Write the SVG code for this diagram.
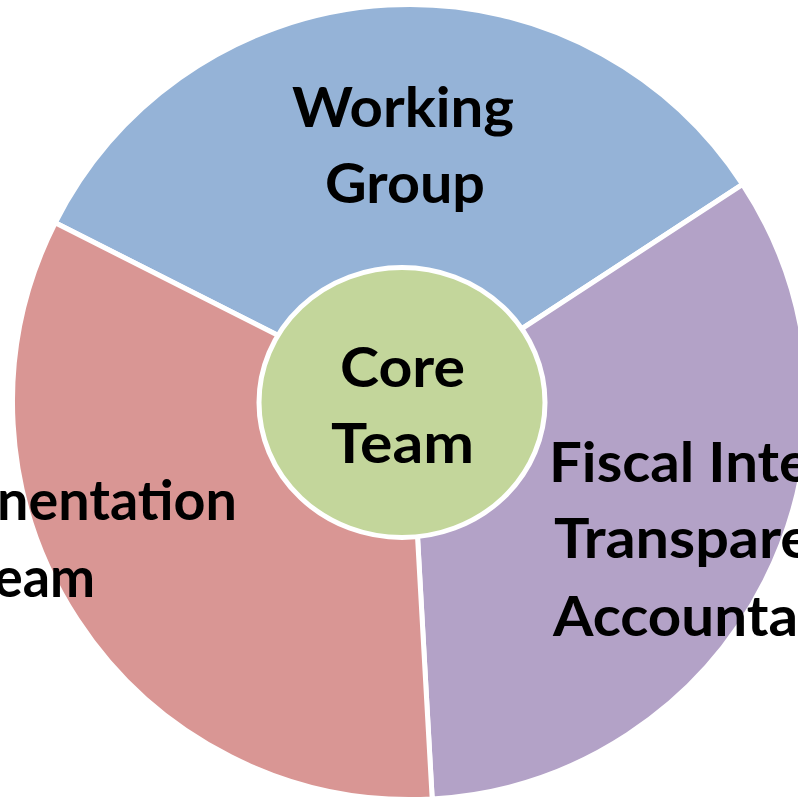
<svg xmlns="http://www.w3.org/2000/svg" width="798" height="799" viewBox="0 0 798 799">
<style>
.seg{stroke:#FFFFFF;stroke-width:5;stroke-linejoin:round}
.lbl{font-family:Lato,"Open Sans","Liberation Sans",sans-serif;font-weight:bold;font-size:56px;fill:#000000}
</style>
<rect x="0" y="0" width="798" height="799" fill="#FFFFFF"/>
<g id="connectors"/>
<g id="working-group">
<path class="seg" fill="#95B3D7" d="M410,402 L55.2,222.8 A397.5,397.5 0 0 1 742.6,184.3 Z"/>
<text class="lbl" x="292" y="127" textLength="222" lengthAdjust="spacingAndGlyphs">Working</text>
<text class="lbl" x="325" y="203" textLength="160" lengthAdjust="spacingAndGlyphs">Group</text>
</g>
<g id="fiscal-integrity">
<path class="seg" fill="#B3A2C7" d="M410,402 L742.6,184.3 A397.5,397.5 0 0 1 432.2,798.9 Z"/>
<text class="lbl" x="549" y="482" textLength="261" lengthAdjust="spacingAndGlyphs">Fiscal Inte</text>
<text class="lbl" x="554" y="558" textLength="258" lengthAdjust="spacingAndGlyphs">Transpare</text>
<text class="lbl" x="553" y="636" textLength="245" lengthAdjust="spacingAndGlyphs">Accounta</text>
</g>
<g id="implementation-team">
<path class="seg" fill="#D99694" d="M410,402 L432.2,798.9 A397.5,397.5 0 0 1 55.2,222.8 Z"/>
<text class="lbl" x="-3" y="520" textLength="240" lengthAdjust="spacingAndGlyphs">nentation</text>
<text class="lbl" x="-6" y="597" textLength="101" lengthAdjust="spacingAndGlyphs">eam</text>
</g>
<g id="core-team">
<ellipse cx="402" cy="402.5" rx="143" ry="135" fill="#C3D69B" stroke="#FFFFFF" stroke-width="5"/>
<text class="lbl" x="340" y="387" textLength="125" lengthAdjust="spacingAndGlyphs">Core</text>
<text class="lbl" x="331" y="463" textLength="143" lengthAdjust="spacingAndGlyphs">Team</text>
</g>
</svg>
